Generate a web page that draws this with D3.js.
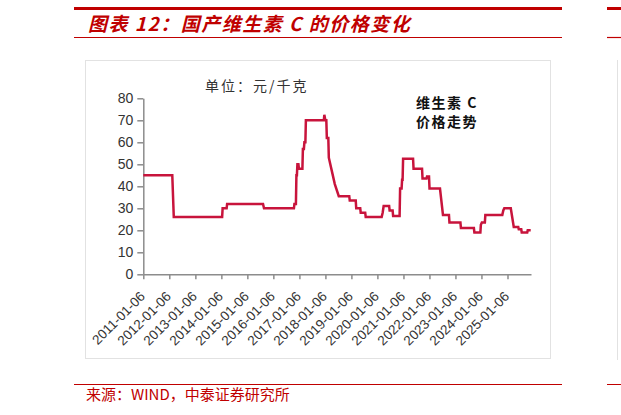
<!DOCTYPE html>
<html>
<head>
<meta charset="utf-8">
<script src="https://cdn.jsdelivr.net/npm/d3@7"></script>
<style>
  html, body { margin: 0; padding: 0; background: #fff; }
  svg { display: block; }
</style>
</head>
<body>
<svg id="chart" width="621" height="415"></svg>
<script>
// ---- data ----
const dates = [
  "2011-01-06","2012-02-17","2012-03-09","2014-01-17","2014-01-24","2014-03-21","2014-03-28",
  "2015-08-14","2015-08-28","2016-10-21","2016-10-28","2016-11-18","2016-11-25","2016-12-02",
  "2016-12-09","2016-12-23","2016-12-30","2017-02-17","2017-02-24","2017-03-10","2017-03-17",
  "2017-03-31","2017-04-07","2017-12-15","2017-12-22","2018-01-05","2018-01-19","2018-01-26",
  "2018-02-16","2018-02-23","2018-04-06","2018-05-18","2018-07-13","2018-12-07","2018-12-14",
  "2019-03-08","2019-03-15","2019-05-10","2019-05-17","2019-07-19","2019-07-26","2020-03-06",
  "2020-03-20","2020-04-03","2020-06-19","2020-06-26","2020-08-07","2020-08-14","2020-11-13",
  "2020-11-20","2020-12-11","2020-12-18","2020-12-25","2021-01-01","2021-05-21","2021-05-28",
  "2021-09-24","2021-10-01","2021-11-26","2021-12-03","2021-12-31","2022-01-07","2022-06-03",
  "2022-07-15","2022-10-07","2022-10-14","2023-03-17","2023-03-24","2023-09-22","2023-09-29",
  "2023-12-22","2023-12-29","2024-01-12","2024-02-23","2024-03-01","2024-10-25","2024-11-08",
  "2024-11-22","2025-02-21","2025-04-04","2025-06-06","2025-06-13","2025-07-18","2025-07-25",
  "2025-10-10","2025-10-17","2025-11-28"
];
const prices = [
  45,45,26,26,30,30,32,
  32,30,30,32,32,45,45,
  50,50,48,48,57,57,60,
  60,70,70,72.5,70,70,62,
  62,53,47,41,35.5,35.5,33.5,
  33.5,30,30,28,28,26,26,
  28,31,31,29,29,26.5,26.5,
  39,39,43,43,52.5,52.5,48,
  48,43.5,43.5,44.5,44.5,39,39,
  27,27,23.5,23.5,21,21,19,
  19,22.5,23.5,23.5,27,27,29,
  30,30,21.5,21.5,20.5,20.5,19,
  19,20,20
];
const xTickLabels = ["2011-01-06","2012-01-06","2013-01-06","2014-01-06","2015-01-06",
  "2016-01-06","2017-01-06","2018-01-06","2019-01-06","2020-01-06","2021-01-06",
  "2022-01-06","2023-01-06","2024-01-06","2025-01-06"];
const yTicks = [0,10,20,30,40,50,60,70,80];
const xDomain = ["2011-01-06","2025-12-02"];
const yDomain = [0, 80];
const titleText = "图表 12：国产维生素 C 的价格变化";
const unitText = "单位：元/千克";
const noteLines = ["维生素 C", "价格走势"];
const sourceText = "来源：WIND，中泰证券研究所";

// ---- drawing ----
const parse = d3.timeParse("%Y-%m-%d");
const data = dates.map((d, i) => ({ date: parse(d), value: prices[i] }));
const RED = "#c00000";
const LINE = "#c8143c";
const svg = d3.select("#chart");
svg.append("rect").attr("width", 621).attr("height", 415).attr("fill", "#fff");

// header
svg.append("rect").attr("x", 74).attr("y", 7).attr("width", 488).attr("height", 3).attr("fill", RED);
svg.append("rect").attr("x", 607).attr("y", 7).attr("width", 14).attr("height", 3).attr("fill", RED);
svg.append("line").attr("x1", 74).attr("x2", 562).attr("y1", 37.5).attr("y2", 37.5)
  .attr("stroke", RED).attr("stroke-width", 1.2);
svg.append("line").attr("x1", 607).attr("x2", 621).attr("y1", 37.5).attr("y2", 37.5)
  .attr("stroke", RED).attr("stroke-width", 1.2);
svg.append("text").attr("x", 88).attr("y", 31)
  .attr("font-family", "'Noto Sans CJK SC', sans-serif").attr("font-size", 19)
  .attr("font-weight", "bold").attr("font-style", "italic").attr("letter-spacing", 1.5)
  .attr("fill", RED).text(titleText);

// panel
svg.append("rect").attr("x", 85.5).attr("y", 60.5).attr("width", 465).attr("height", 298)
  .attr("fill", "#fff").attr("stroke", "#e2e2e2").attr("stroke-width", 1);
svg.append("line").attr("x1", 617.5).attr("x2", 617.5).attr("y1", 60).attr("y2", 360)
  .attr("stroke", "#e2e2e2");

// scales
const x = d3.scaleTime().domain(xDomain.map(parse)).range([143.3, 531]);
const y = d3.scaleLinear().domain(yDomain).range([274.3, 98.3]);

// y axis
const yAxis = svg.append("g").attr("transform", "translate(143.3,0)")
  .call(d3.axisLeft(y).tickValues(yTicks).tickSize(6).tickSizeOuter(0).tickPadding(4));
yAxis.select(".domain").attr("stroke", "#8c8c8c").attr("stroke-width", 1.5);
yAxis.selectAll(".tick line").attr("stroke", "#8c8c8c").attr("stroke-width", 1.5);
yAxis.selectAll(".tick text").attr("font-family", "'Liberation Sans', Arial, sans-serif")
  .attr("font-size", 14).attr("fill", "#333");

// x axis
const xAxis = svg.append("g").attr("transform", "translate(0,274.3)")
  .call(d3.axisBottom(x).tickValues(xTickLabels.map(parse)).tickSize(5).tickSizeOuter(0)
    .tickFormat(d3.timeFormat("%Y-%m-%d")));
xAxis.select(".domain").attr("stroke", "#8c8c8c").attr("stroke-width", 1.5);
xAxis.selectAll(".tick line").attr("stroke", "#8c8c8c").attr("stroke-width", 1.5);
xAxis.selectAll(".tick text")
  .attr("font-family", "'Liberation Sans', Arial, sans-serif").attr("font-size", 13.5)
  .attr("fill", "#333").attr("text-anchor", "end")
  .attr("dy", null).attr("y", 0)
  .attr("transform", "translate(2,23) rotate(-45)");

// line
svg.append("path").datum(data)
  .attr("fill", "none").attr("stroke", LINE).attr("stroke-width", 2.5)
  .attr("stroke-linejoin", "miter")
  .attr("d", d3.line().x(d => x(d.date)).y(d => y(d.value)));

// texts
svg.append("text").attr("x", 205).attr("y", 91)
  .attr("font-family", "'Noto Sans CJK SC', sans-serif").attr("font-size", 14)
  .attr("letter-spacing", 2).attr("fill", "#333").text(unitText);
noteLines.forEach((t, i) => {
  svg.append("text").attr("x", 416).attr("y", 108 + i * 19)
    .attr("font-family", "'Noto Sans CJK SC', sans-serif").attr("font-size", 14)
    .attr("font-weight", "bold").attr("letter-spacing", 1.5).attr("fill", "#111").text(t);
});

// source
svg.append("line").attr("x1", 74).attr("x2", 562).attr("y1", 384.5).attr("y2", 384.5)
  .attr("stroke", RED).attr("stroke-width", 1);
svg.append("line").attr("x1", 607).attr("x2", 621).attr("y1", 384.5).attr("y2", 384.5)
  .attr("stroke", RED).attr("stroke-width", 1);
svg.append("text").attr("x", 86).attr("y", 400)
  .attr("font-family", "'Noto Sans CJK SC', sans-serif").attr("font-size", 15)
  .attr("fill", RED).text(sourceText);
</script>
</body>
</html>
